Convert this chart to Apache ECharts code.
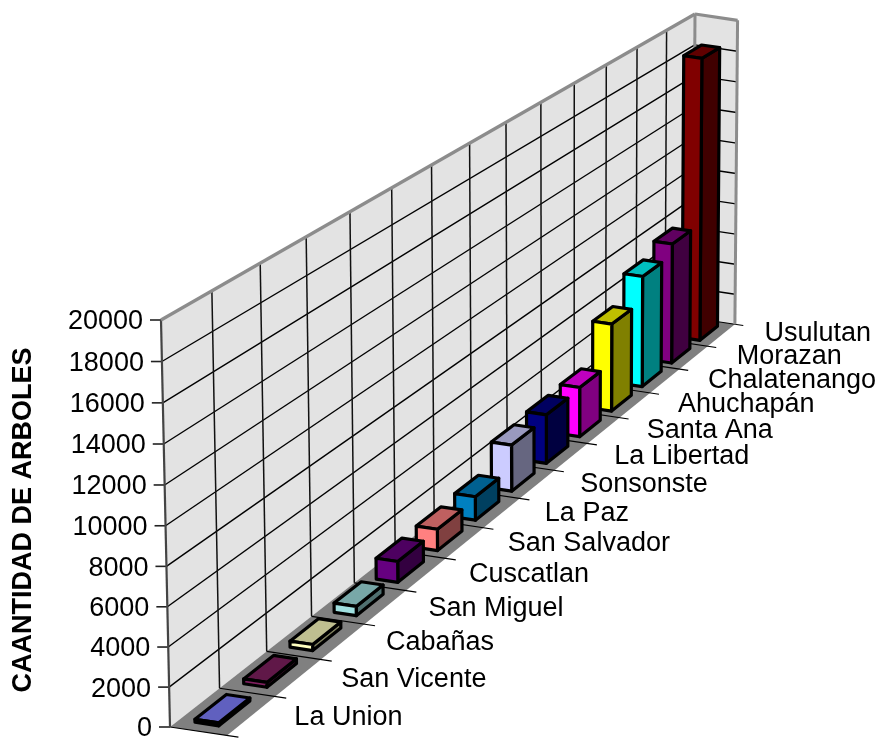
<!DOCTYPE html>
<html>
<head>
<meta charset="utf-8">
<style>html,body{margin:0;padding:0;background:#fff}#chart{width:882px;height:738px}</style>
<script src="https://cdn.jsdelivr.net/npm/echarts@6/dist/echarts.min.js"></script>
</head>
<body>
<div id="chart"></div>
<script>
// Trees per department
const departments = ['La Union','San Vicente','Cabañas','San Miguel','Cuscatlan','San Salvador','La Paz','Sonsonste','La Libertad','Santa Ana','Ahuchapán','Chalatenango','Morazan','Usulutan'];
const trees = [150,250,320,500,1150,1200,1350,2700,2900,3000,5400,6950,7650,18300];
const barColors = ['#8080ff','#802060','#ffffc0','#a0e0e0','#660080','#ff8080','#0080c0','#ccccff','#000080','#ff00ff','#ffff00','#00ffff','#800080','#800000'];
const valueTicks = [0,2000,4000,6000,8000,10000,12000,14000,16000,18000,20000];
const axisTitle = 'CAANTIDAD DE ARBOLES';

// Perspective view: wall corners on screen and the floor's depth vector
const cornerA = [170,727], cornerB = [693,318], cornerC = [695,14], cornerD = [161,320];
const depthVec = [57,8.5];
const FONT = 'Liberation Sans, Arial, sans-serif';

const dx1 = [cornerB[0]-cornerC[0], cornerB[1]-cornerC[1]];
const dx2 = [cornerD[0]-cornerC[0], cornerD[1]-cornerC[1]];
const sum = [cornerA[0]-cornerB[0]+cornerC[0]-cornerD[0], cornerA[1]-cornerB[1]+cornerC[1]-cornerD[1]];
const det = dx1[0]*dx2[1]-dx2[0]*dx1[1];
const wU = (sum[0]*dx2[1]-dx2[0]*sum[1])/det;
const wV = (dx1[0]*sum[1]-sum[0]*dx1[1])/det;

// u, v: normalised along the category and value axes; d: depth from the back wall
function project(u,v,d){
  const w = 1+wU*u+wV*v;
  const out = [];
  for(let k=0;k<2;k++){
    const a = cornerB[k]*(1+wU)-cornerA[k];
    const b = cornerD[k]*(1+wV)-cornerA[k];
    out.push((cornerA[k]+a*u+b*v+depthVec[k]*d)/w);
  }
  return out;
}
// Read category position and value through the hidden cartesian axes
function toView(params,api,cat,val,d){
  const c = api.coord([cat,val]);
  const r = params.coordSys;
  return project((c[0]-r.x)/r.width, 1-(c[1]-r.y)/r.height, d);
}
function poly(points,fill,stroke,lineWidth,z2){
  return {type:'polygon',z2:z2||0,shape:{points},style:{fill,stroke:stroke||null,lineWidth:lineWidth||0,lineJoin:'round'}};
}
function line(p,q,stroke,lineWidth,z2){
  return {type:'line',z2:z2||0,shape:{x1:p[0],y1:p[1],x2:q[0],y2:q[1]},style:{stroke,lineWidth,lineCap:'butt'}};
}
function shade(hex,f){
  const n = parseInt(hex.slice(1),16);
  const c = [n>>16,(n>>8)&255,n&255].map(x=>Math.round(x*f));
  return 'rgb('+c.join(',')+')';
}

const N = departments.length, MAX = 20000;
const barGap = 0.18, depthNear = 0.28, depthFar = 0.70;
const option = {
  animation:false,
  backgroundColor:'#fff',
  grid:{left:100,top:320,width:700,height:407},
  xAxis:{type:'value',min:0,max:N,show:false},
  yAxis:{type:'value',min:0,max:MAX,interval:2000,show:false},
  graphic:[{type:'text',x:24,y:520,rotation:Math.PI/2,silent:true,
    style:{text:axisTitle,align:'center',verticalAlign:'middle',fontFamily:FONT,fontSize:27,fontWeight:'bold',fill:'#000'}}],
  series:[
    // Walls and floor
    {type:'custom',data:[[0]],silent:true,z:1,renderItem(params,api){
      const P=(c,v,d)=>toView(params,api,c,v,d);
      return {type:'group',children:[
        poly([P(0,0,0),P(N,0,0),P(N,MAX,0),P(0,MAX,0)],'#e3e3e3'),
        poly([P(N,0,0),P(N,0,1),P(N,MAX,1),P(N,MAX,0)],'#e3e3e3'),
        poly([P(0,0,0),P(N,0,0),P(N,0,1),P(0,0,1)],'#808080')
      ]};
    }},
    // Value gridlines, ticks and labels
    {type:'custom',data:valueTicks.map(v=>[v]),silent:true,z:2,renderItem(params,api){
      const val=api.value(0);
      const P=(c,d)=>toView(params,api,c,val,d);
      const a=P(0,0),b=P(N,0),e=P(N,1);
      const kids=[line([a[0]-11,a[1]],a,'#222',1.6)];
      if(val>0&&val<MAX){kids.push(line(a,b,'#000',1.4),line(b,e,'#000',1.4));}
      kids.push({type:'text',style:{text:String(val),x:a[0]-18,y:a[1]+2,align:'right',verticalAlign:'middle',
        fontFamily:FONT,fontSize:27,fill:'#000'}});
      return {type:'group',children:kids};
    }},
    // Category gridlines, floor ticks and labels
    {type:'custom',data:departments.concat(['']).map((d,i)=>[i,d]),silent:true,z:3,renderItem(params,api){
      const i=api.value(0);
      const P=(c,v,d)=>toView(params,api,c,v,d);
      const kids=[];
      if(i>0&&i<N)kids.push(line(P(i,0,0),P(i,MAX,0),'#111',1.5));
      kids.push(line(P(i,0,0),P(i,0,1.2),'#000',1.2));
      if(i<N){
        const f=P(i+0.5,0,1);
        kids.push({type:'text',style:{text:departments[i],x:f[0]+43,y:f[1]+1.5-0.2*i,align:'left',verticalAlign:'middle',
          fontFamily:FONT,fontSize:27,fill:'#000'}});
      }
      return {type:'group',children:kids};
    }},
    // Frame edges of the walls
    {type:'custom',data:[[0]],silent:true,z:4,renderItem(params,api){
      const P=(c,v,d)=>toView(params,api,c,v,d);
      return {type:'group',children:[
        line(P(0,0,0),P(0,MAX,0),'#444',2.2),
        line(P(0,MAX,0),P(N,MAX,0),'#8c8c8c',3.2),
        line(P(N,MAX,0),P(N,MAX,1),'#8c8c8c',3.2),
        line(P(N,MAX,1),P(N,0,1),'#8c8c8c',3),
        line(P(N,0,0),P(N,MAX,0),'#8c8c8c',3)
      ]};
    }},
    // Bars, far ones first so nearer bars overlap them
    {type:'custom',silent:true,z:5,
      data:trees.map((v,i)=>[i,v]).reverse(),
      renderItem(params,api){
        const i=api.value(0), val=api.value(1);
        const P=(c,v,d)=>toView(params,api,c,v,d);
        const x0=i+barGap,x1=i+1-barGap,col=barColors[i];
        const stroke='#000',lw=3.2;
        return {type:'group',children:[
          poly([P(x0,val,depthFar),P(x1,val,depthFar),P(x1,0,depthFar),P(x0,0,depthFar)],shade(col,0.5),stroke,lw),
          poly([P(x0,val,depthNear),P(x1,val,depthNear),P(x1,val,depthFar),P(x0,val,depthFar)],shade(col,0.75),stroke,lw),
          poly([P(x0,0,depthNear),P(x0,val,depthNear),P(x0,val,depthFar),P(x0,0,depthFar)],col,stroke,lw)
        ]};
      }}
  ]
};
echarts.init(document.getElementById('chart'),null,{renderer:'canvas'}).setOption(option);
</script>
</body>
</html>
